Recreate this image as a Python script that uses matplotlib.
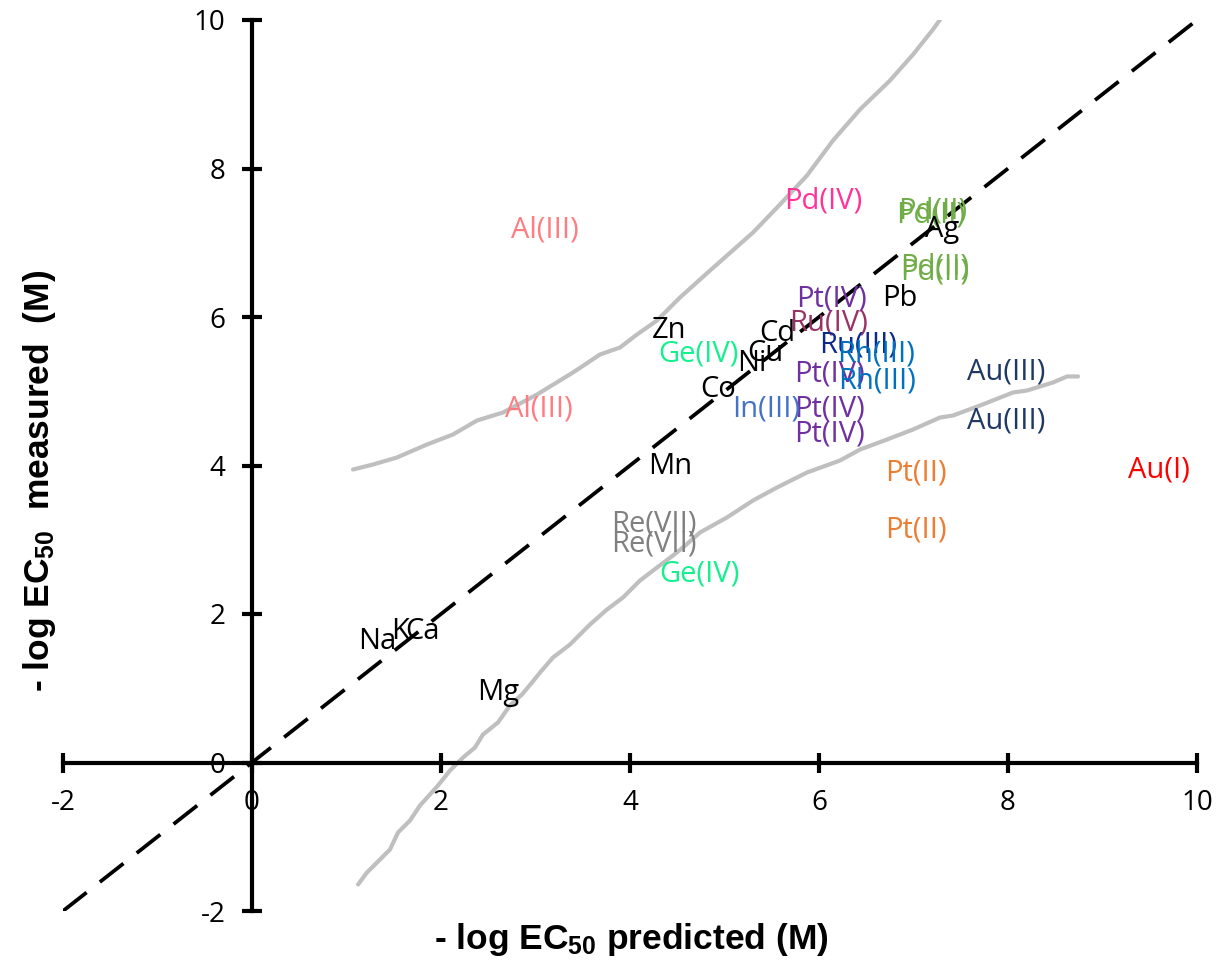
import matplotlib
matplotlib.use("Agg")
import matplotlib.pyplot as plt
from matplotlib.transforms import offset_copy

# ---------------- data ----------------
labels = ["Al(III)", "Al(III)", "Pd(IV)", "Pd(II)", "Pd(II)", "Pd(II)", "Pd(II)", "Ag", "Pb",
          "Pt(IV)", "Pt(IV)", "Pt(IV)", "Pt(IV)", "Ru(IV)", "Ru(III)", "Rh(III)", "Rh(III)",
          "Au(III)", "Au(III)", "Au(I)", "Pt(II)", "Pt(II)", "Zn", "Ge(IV)", "Ge(IV)",
          "Cd", "Cu", "Ni", "Co", "In(III)", "Mn", "Re(VII)", "Re(VII)", "Na", "K", "Ca", "Mg"]
predicted = [3.10, 3.04, 6.04, 7.20, 7.18, 7.22, 7.22, 7.30, 6.86,
             6.13, 6.11, 6.11, 6.11, 6.10, 6.41, 6.60, 6.61,
             7.98, 7.98, 9.60, 7.03, 7.03, 4.41, 4.72, 4.74,
             5.56, 5.43, 5.29, 4.93, 5.44, 4.42, 4.25, 4.25, 1.33, 1.57, 1.80, 2.60]
measured = [7.23, 4.81, 7.61, 7.48, 7.43, 6.73, 6.66, 7.23, 6.30,
            6.30, 5.29, 4.81, 4.48, 5.97, 5.68, 5.55, 5.19,
            5.31, 4.65, 3.99, 3.95, 3.19, 5.87, 5.56, 2.59,
            5.83, 5.56, 5.43, 5.08, 4.81, 4.04, 3.26, 2.99, 1.68, 1.82, 1.82, 1.00]

identity = [-2, 10]

upper_x = [1.069, 1.280, 1.534, 1.852, 2.127, 2.381, 2.656, 3.016, 3.397, 3.683, 3.894,
           4.074, 4.286, 4.529, 4.847, 5.302, 5.587, 5.873, 6.148, 6.434, 6.751, 6.995,
           7.206, 7.312]
upper_y = [3.946, 4.013, 4.108, 4.283, 4.418, 4.606, 4.714, 4.956, 5.253, 5.495, 5.589,
           5.764, 5.953, 6.263, 6.626, 7.138, 7.515, 7.906, 8.377, 8.795, 9.185, 9.535,
           9.872, 10.061]
lower_x = [1.122, 1.217, 1.460, 1.545, 1.672, 1.778, 1.968, 2.095, 2.233, 2.360, 2.444,
           2.603, 2.730, 2.857, 2.963, 3.048, 3.185, 3.365, 3.577, 3.757, 3.926, 4.106,
           4.286, 4.455, 4.561, 4.741, 5.026, 5.302, 5.556, 5.873, 6.222, 6.434, 6.720,
           6.995, 7.280, 7.418, 7.704, 8.053, 8.201, 8.476, 8.624, 8.741]
lower_y = [-1.643, -1.481, -1.172, -0.943, -0.781, -0.579, -0.310, -0.108, 0.067, 0.202,
           0.377, 0.539, 0.768, 0.916, 1.077, 1.212, 1.414, 1.589, 1.859, 2.061, 2.222,
           2.451, 2.626, 2.788, 2.896, 3.098, 3.300, 3.529, 3.704, 3.906, 4.067, 4.215,
           4.350, 4.485, 4.646, 4.673, 4.808, 4.983, 5.010, 5.118, 5.199, 5.199]

x_ticks = [-2, 0, 2, 4, 6, 8, 10]
y_ticks = [-2, 0, 2, 4, 6, 8, 10]

# ---------------- style ----------------
label_colors = {
    "Al(III)": "#FF7C80", "Pd(IV)": "#FF3399", "Pd(II)": "#70AD47", "Pt(IV)": "#7030A0",
    "Ru(IV)": "#993366", "Ru(III)": "#0A2A8C", "Rh(III)": "#0070C0", "Au(III)": "#1F3864",
    "Au(I)": "#FF0000", "Pt(II)": "#ED7D31", "Ge(IV)": "#14F08E", "In(III)": "#4472C4",
    "Re(VII)": "#808080",
}

plt.rcParams["mathtext.fontset"] = "custom"
plt.rcParams["mathtext.rm"] = "Liberation Sans:bold"
plt.rcParams["mathtext.bf"] = "Liberation Sans:bold"
plt.rcParams["mathtext.it"] = "Liberation Sans:bold"

fig = plt.figure(figsize=(12.29, 9.61), dpi=100)
ax = fig.add_axes([63 / 1229, 1 - 911 / 961, (1197 - 63) / 1229, (911 - 20) / 961])
ax.set_xlim(-2, 10)
ax.set_ylim(-2, 10)

ax.plot(upper_x, upper_y, color="#BFBFBF", lw=3.0, solid_capstyle="round",
        solid_joinstyle="round", zorder=1)
ax.plot(lower_x, lower_y, color="#BFBFBF", lw=3.0, solid_capstyle="round",
        solid_joinstyle="round", zorder=1)
ax.plot(identity, identity, color="black", lw=2.7, linestyle=(0, (8, 4.5)), zorder=2)

label_tr = offset_copy(ax.transData, fig=fig, x=0, y=-4, units="dots")
for lab, xv, yv in zip(labels, predicted, measured):
    ax.text(xv, yv, lab, ha="center", va="center", color=label_colors.get(lab, "black"),
            fontsize=21, family="Open Sans", zorder=3, transform=label_tr)

for s in ["top", "right"]:
    ax.spines[s].set_visible(False)
ax.spines["left"].set_position(("data", 0))
ax.spines["bottom"].set_position(("data", 0))
for s in ["left", "bottom"]:
    ax.spines[s].set_linewidth(3.0)
    ax.spines[s].set_zorder(2.5)

ax.set_xticks(x_ticks)
ax.set_yticks(y_ticks)
ax.set_xticklabels([str(t) for t in x_ticks])
ax.set_yticklabels([str(t) for t in y_ticks])
ax.tick_params(direction="inout", length=14, width=3.0, labelsize=20, pad=12)
for t in ax.get_xticklabels() + ax.get_yticklabels():
    t.set_family("Open Sans")

fig.text(631 / 1229, 1 - 940 / 961, r"- log EC$_{50}$ predicted (M)", ha="center", va="center",
         fontsize=25.5, fontweight="bold", family="Liberation Sans")
fig.text(40 / 1229, 1 - 481 / 961, r"- log EC$_{50}$  measured  (M)", ha="center", va="center",
         rotation=90, fontsize=25.5, fontweight="bold", family="Liberation Sans")

fig.savefig("out.png", dpi=100)
